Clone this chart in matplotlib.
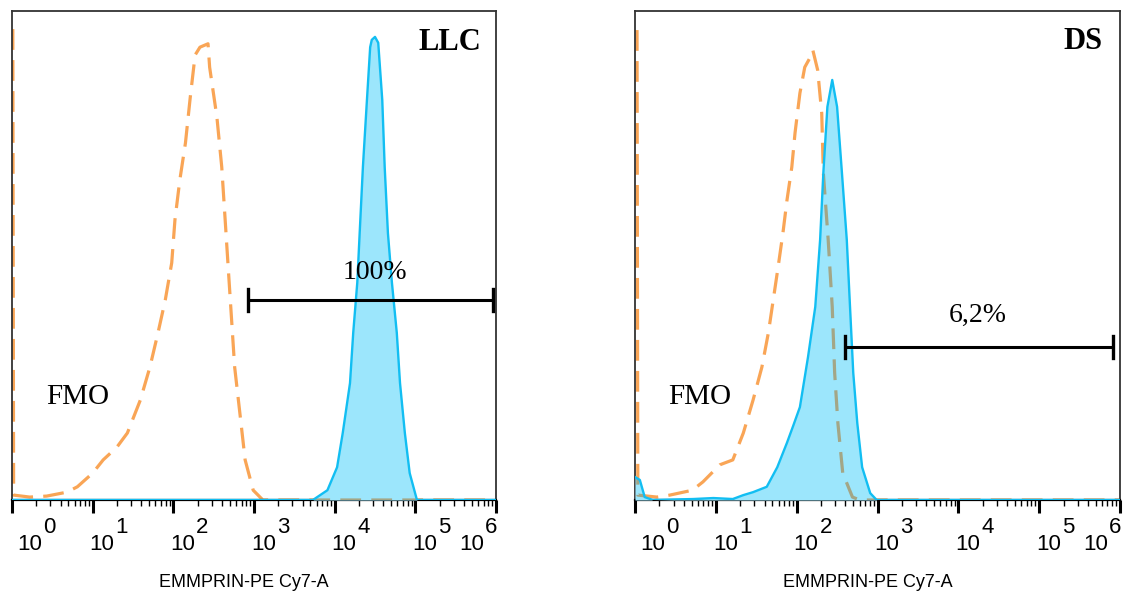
import numpy as np
import matplotlib
matplotlib.use("Agg")
import matplotlib.pyplot as plt
from matplotlib.ticker import LogLocator, NullFormatter, FixedLocator

# x values in log10 decades, y values in % of max count
llc_fmo_x = [0.01, 0.02, 0.22, 0.43, 0.68, 0.81, 1.00, 1.13, 1.30, 1.43, 1.59, 1.71,
             1.81, 1.90, 1.98, 2.02, 2.08, 2.15, 2.21, 2.27, 2.33, 2.43, 2.45, 2.54,
             2.60, 2.64, 2.68, 2.72, 2.76, 2.83, 2.89, 2.99, 3.11, 6.0]
llc_fmo_y = [96.3, 1.0, 0.6, 0.8, 1.6, 2.7, 5.5, 8.2, 10.8, 13.7, 20.4, 27.2,
             34.2, 40.9, 48.5, 57.3, 65.4, 73.0, 82.4, 91.0, 92.6, 93.3, 88.5, 78.3,
             68.1, 57.9, 47.6, 37.4, 27.2, 17.0, 8.2, 2.0, 0.0, 0.0]

llc_x = [0.0, 3.73, 3.91, 4.03, 4.10, 4.19, 4.23, 4.28, 4.31, 4.35, 4.40, 4.44,
         4.46, 4.50, 4.54, 4.59, 4.62, 4.66, 4.71, 4.77, 4.81, 4.87, 4.93, 5.02, 6.0]
llc_y = [0.0, 0.0, 2.0, 6.7, 13.7, 23.9, 34.2, 44.4, 54.6, 68.1, 81.8, 92.6,
         94.1, 94.7, 93.5, 81.8, 68.1, 54.6, 44.4, 34.2, 23.9, 13.7, 5.5, 0.0, 0.0]

ds_fmo_x = [0.025, 0.035, 0.27, 0.43, 0.71, 0.84, 1.05, 1.21, 1.34, 1.46, 1.57, 1.65,
            1.71, 1.77, 1.83, 1.88, 1.94, 1.98, 2.04, 2.10, 2.17, 2.20, 2.26, 2.31,
            2.33, 2.39, 2.44, 2.47, 2.51, 2.57, 2.69, 2.78, 6.0]
ds_fmo_y = [96.1, 1.0, 0.6, 1.0, 2.0, 3.7, 7.2, 8.2, 13.7, 20.4, 27.2, 34.2,
            40.9, 47.6, 54.6, 61.3, 68.1, 75.1, 83.2, 88.5, 90.6, 92.0, 87.9, 79.1,
            66.9, 53.2, 39.5, 26.0, 15.7, 5.5, 0.6, 0.0, 0.0]

ds_x = [0.0, 0.06, 0.12, 0.22, 0.72, 0.97, 1.21, 1.34, 1.46, 1.63, 1.76, 1.88,
        1.96, 2.04, 2.14, 2.23, 2.29, 2.33, 2.38, 2.44, 2.50, 2.56, 2.62, 2.66,
        2.70, 2.75, 2.81, 2.91, 2.99, 6.0]
ds_y = [4.7, 4.1, 0.6, 0.0, 0.2, 0.4, 0.2, 1.0, 1.6, 2.7, 6.7, 11.7,
        15.3, 19.0, 29.2, 39.5, 53.2, 66.9, 80.4, 85.9, 80.4, 66.9, 53.2, 39.5,
        26.0, 15.7, 6.7, 1.4, 0.0, 0.0]

panels = [
    dict(name="LLC", fmo_x=llc_fmo_x, fmo_y=llc_fmo_y, x=llc_x, y=llc_y,
         gate=(2.925, 5.963, 40.9), pct="100%", pct_pos=(0.75, 0.466),
         name_pos=(0.905, 0.935), fmo_pos=(0.136, 0.211)),
    dict(name="DS", fmo_x=ds_fmo_x, fmo_y=ds_fmo_y, x=ds_x, y=ds_y,
         gate=(2.598, 5.914, 31.3), pct="6,2%", pct_pos=(0.707, 0.378),
         name_pos=(0.924, 0.937), fmo_pos=(0.134, 0.211)),
]

ORANGE = "#F9A556"
OLIVE = "#A3A686"
FILL = "#9CE6FC"
EDGE = "#12BEF2"
serif = "Liberation Serif"
sans = "Liberation Sans"

fig = plt.figure(figsize=(11.23, 5.93), dpi=100)
rects = [[0.01069, 0.15683, 0.43099, 0.82462], [0.56545, 0.15683, 0.43188, 0.82462]]
label_x = [244 / 1123, 868 / 1123]

for p, rect, lx in zip(panels, rects, label_x):
    ax = fig.add_axes(rect)
    ax.set_xscale("log")
    ax.set_xlim(1, 1e6)
    ax.set_ylim(0, 100)

    fx = np.power(10.0, p["fmo_x"])
    sx = np.power(10.0, p["x"])

    ax.plot(fx, p["fmo_y"], color=ORANGE, lw=2.3, dashes=(6.5, 3.2), zorder=2)
    fill = ax.fill_between(sx, p["y"], 0, color=FILL, lw=0, zorder=3)
    over, = ax.plot(fx, p["fmo_y"], color=OLIVE, lw=2.3, dashes=(6.5, 3.2), zorder=4)
    over.set_clip_path(fill.get_paths()[0], ax.transData)
    ax.plot(sx, p["y"], color=EDGE, lw=1.7, zorder=5)

    g0, g1, gy = p["gate"]
    ax.plot([10 ** g0, 10 ** g1], [gy, gy], color="black", lw=2.2, zorder=6,
            solid_capstyle="butt")
    for gx in (g0, g1):
        ax.plot([10 ** gx, 10 ** gx], [gy - 2.3, gy + 2.3], color="black", lw=2.4, zorder=6)

    ax.text(*p["pct_pos"], p["pct"], transform=ax.transAxes, ha="center", va="center",
            fontsize=20, family=serif, zorder=7)
    ax.text(*p["name_pos"], p["name"], transform=ax.transAxes, ha="center", va="center",
            fontsize=22, family=serif, fontweight="bold", zorder=7)
    ax.text(*p["fmo_pos"], "FMO", transform=ax.transAxes, ha="center", va="center",
            fontsize=21, family=serif, zorder=7)

    # axes styling
    ax.set_yticks([])
    ax.xaxis.set_major_locator(FixedLocator([10.0 ** d for d in range(7)]))
    ax.xaxis.set_minor_locator(LogLocator(base=10, subs=np.arange(2, 10), numticks=30))
    ax.xaxis.set_major_formatter(NullFormatter())
    ax.xaxis.set_minor_formatter(NullFormatter())
    ax.tick_params(axis="x", which="major", direction="out", length=9, width=2.2, color="black")
    ax.tick_params(axis="x", which="minor", direction="out", length=4.5, width=1.0, color="black")
    for side in ("left", "top", "right"):
        ax.spines[side].set_linewidth(1.3)
        ax.spines[side].set_color("#333333")
    ax.spines["bottom"].set_linewidth(1.6)
    ax.spines["bottom"].set_color("black")

    # decade labels: "10" with a full size exponent
    for d in range(7):
        dx = -3
        if d == 0:
            dx = 5
        elif d == 6:
            dx = -37
        ax.annotate("10", xy=(10.0 ** d, 0), xycoords=("data", "axes fraction"),
                    xytext=(dx, -45), textcoords="offset pixels", ha="left", va="center",
                    fontsize=16, family=sans, annotation_clip=False)
        ax.annotate(str(d), xy=(10.0 ** d, 0), xycoords=("data", "axes fraction"),
                    xytext=(dx + 26, -28), textcoords="offset pixels", ha="left", va="center",
                    fontsize=16, family=sans, annotation_clip=False)

    fig.text(lx, 0.0185, "EMMPRIN-PE Cy7-A", ha="center", va="center",
             fontsize=13, family=sans)

fig.savefig("out.png", dpi=100)
